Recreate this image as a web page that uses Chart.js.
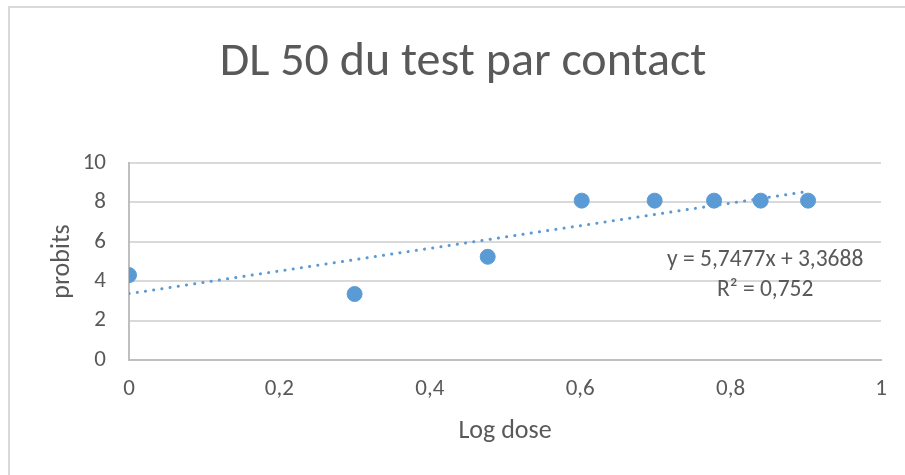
<!DOCTYPE html>
<html>
<head>
<meta charset="utf-8">
<script src="https://cdn.jsdelivr.net/npm/chart.js@4.4.1/dist/chart.umd.min.js"></script>
<style>
  html, body { margin: 0; padding: 0; background: #fff; }
  #wrap { position: relative; width: 905px; height: 475px; overflow: hidden; }
  #frame { position: absolute; left: 8px; top: 6px; width: 910px; height: 480px; border-left: 2px solid #d9d9d9; border-top: 2px solid #d9d9d9; box-sizing: border-box; }
  canvas { position: absolute; left: 0; top: 0; }
</style>
</head>
<body>
<div id="wrap">
  <div id="frame"></div>
  <canvas id="c" width="905" height="475"></canvas>
</div>
<script>
const chartTitle = "DL 50 du test par contact";
const xAxisTitle = "Log dose";
const yAxisTitle = "probits";
const logDose = [0, 0.3, 0.477, 0.602, 0.699, 0.778, 0.84, 0.903];
const probits = [4.31, 3.35, 5.24, 8.09, 8.09, 8.09, 8.09, 8.09];
const trendX = [0, 0.903];
const trendY = [3.3688, 8.559];
const equationLines = ["y = 5,7477x + 3,3688", "R\u00B2 = 0,752"];
const xTicks = [0, 0.2, 0.4, 0.6, 0.8, 1];
const yTicks = [0, 2, 4, 6, 8, 10];

const FONT = "Carlito, 'Open Sans', sans-serif";
const BLUE = "#5b9bd5";
const TXT = "#595959";

const titlePlugin = {
  id: 'fixedTitle',
  afterDraw(chart) {
    const ctx = chart.ctx;
    ctx.save();
    ctx.fillStyle = TXT;
    ctx.font = "48px " + FONT;
    ctx.textAlign = 'center';
    ctx.textBaseline = 'alphabetic';
    ctx.fillText(chartTitle, 463, 75);
    ctx.restore();
  }
};

const eqPlugin = {
  id: 'eq',
  afterDatasetsDraw(chart) {
    const ctx = chart.ctx;
    const xs = chart.scales.x, ys = chart.scales.y;
    const cx = xs.getPixelForValue(0.846);
    ctx.save();
    ctx.fillStyle = TXT;
    ctx.font = "23.5px " + FONT;
    ctx.textAlign = 'center';
    ctx.textBaseline = 'middle';
    ctx.fillText(equationLines[0], cx, ys.getPixelForValue(5.08));
    ctx.fillText(equationLines[1], cx, ys.getPixelForValue(3.55));
    ctx.restore();
  }
};

new Chart(document.getElementById('c'), {
  type: 'scatter',
  data: {
    datasets: [
      {
        label: 'probits',
        data: logDose.map((x, i) => ({ x: x, y: probits[i] })),
        backgroundColor: BLUE,
        borderColor: BLUE,
        pointRadius: 7.5,
        pointHoverRadius: 7.5,
        order: 1
      },
      {
        label: 'trend',
        type: 'line',
        data: trendX.map((x, i) => ({ x: x, y: trendY[i] })),
        borderColor: BLUE,
        borderWidth: 3,
        borderDash: [0.1, 8.2],
        borderCapStyle: 'round',
        pointRadius: 0,
        fill: false,
        order: 2
      }
    ]
  },
  options: {
    responsive: false,
    animation: false,
    layout: { padding: { left: 0, right: 24, top: 163, bottom: 0 } },
    plugins: {
      legend: { display: false },
      tooltip: { enabled: false },
      title: { display: false }
    },
    scales: {
      x: {
        type: 'linear',
        min: 0, max: 1,
        afterBuildTicks(s) { s.ticks = xTicks.map(v => ({ value: v })); },
        afterFit(s) { s.height = 115; },
        grid: { display: false, drawTicks: false },
        border: { display: true, color: '#bfbfbf', width: 2 },
        ticks: {
          color: TXT,
          font: { family: FONT, size: 23 },
          padding: 15,
          callback: v => String(v).replace('.', ',')
        },
        title: {
          display: true, text: xAxisTitle, color: TXT,
          font: { family: FONT, size: 26 },
          padding: { top: 4, bottom: 28 }
        }
      },
      y: {
        type: 'linear',
        min: 0, max: 10,
        afterBuildTicks(s) { s.ticks = yTicks.map(v => ({ value: v })); },
        afterFit(s) { s.width = 129; },
        grid: { color: '#d9d9d9', lineWidth: 2, drawTicks: false },
        border: { display: true, color: '#bfbfbf', width: 2 },
        ticks: {
          color: TXT,
          font: { family: FONT, size: 23 },
          padding: 23
        },
        title: {
          display: true, text: yAxisTitle, color: TXT,
          font: { family: FONT, size: 26 },
          padding: { top: 47, bottom: 4 }
        }
      }
    }
  },
  plugins: [titlePlugin, eqPlugin]
});
</script>
</body>
</html>
